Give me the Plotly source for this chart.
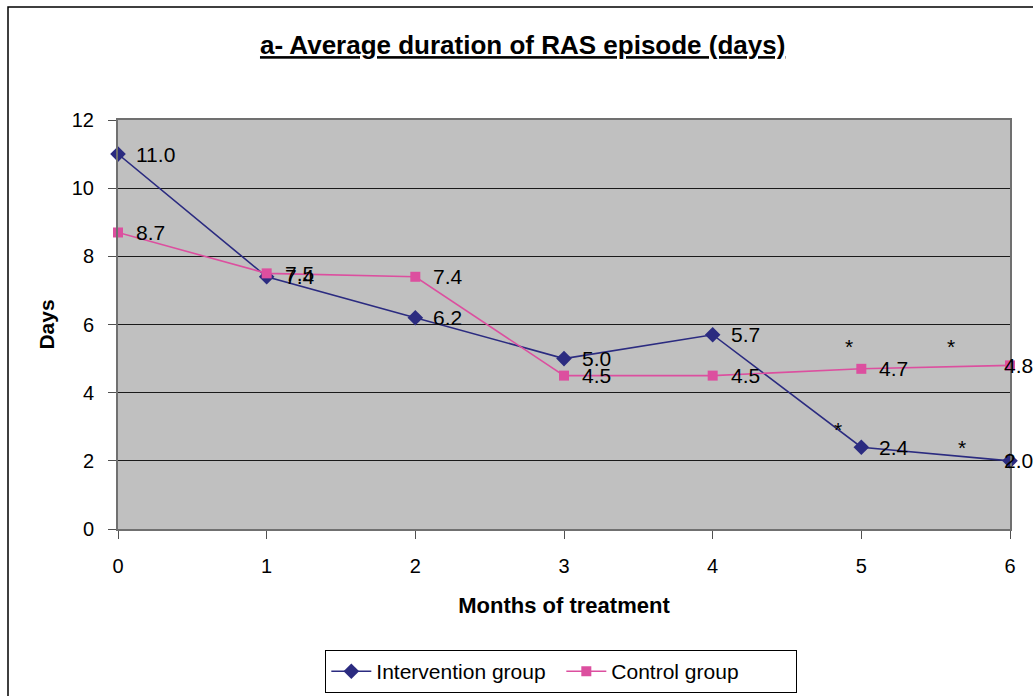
import plotly.graph_objects as go

months = [0, 1, 2, 3, 4, 5, 6]
intervention = [11.0, 7.4, 6.2, 5.0, 5.7, 2.4, 2.0]
control = [8.7, 7.5, 7.4, 4.5, 4.5, 4.7, 4.8]
y_ticks = [0, 2, 4, 6, 8, 10, 12]
# significance marks (x, y)
stars_x = [4.84, 4.92, 5.60, 5.68]
stars_y = [3.05, 5.46, 5.46, 2.52]

FONT = "Liberation Sans, Arial, sans-serif"
BLUE = "#2B2B80"
PINK = "#DC4F9F"

fig = go.Figure()
fig.add_trace(go.Scatter(
    x=months, y=intervention, mode="lines+markers", name="Intervention group",
    line=dict(color=BLUE, width=1.6),
    marker=dict(symbol="diamond", size=12, color=BLUE),
    cliponaxis=False))
fig.add_trace(go.Scatter(
    x=months, y=control, mode="lines+markers", name="Control group",
    line=dict(color=PINK, width=1.6),
    marker=dict(symbol="square", size=10, color=PINK),
    cliponaxis=False))

annotations = []
for series in (intervention, control):
    for i, (m, v) in enumerate(zip(months, series)):
        annotations.append(dict(
            x=m, y=v, xref="x", yref="y", text=f"{v:.1f}", showarrow=False,
            xanchor="left", yanchor="middle",
            xshift=(-8 if i == len(months) - 1 else 16),
            font=dict(family=FONT, size=21, color="black")))
for sx, sy in zip(stars_x, stars_y):
    annotations.append(dict(
        x=sx, y=sy, xref="x", yref="y", text="*", showarrow=False,
        xanchor="center", yanchor="middle", yshift=-4,
        font=dict(family=FONT, size=21, color="black")))

fig.update_layout(
    width=1033, height=696,
    margin=dict(l=118, r=23, t=120, b=167, autoexpand=False),
    paper_bgcolor="white", plot_bgcolor="#C0C0C0",
    font=dict(family=FONT, size=20, color="black"),
    title=dict(
        text="a- Average duration of RAS episode (days)",
        x=0.506, xanchor="center", y=1 - 45 / 696, yanchor="middle",
        font=dict(family=FONT, size=26, color="black", weight="bold",
                  lineposition="under")),
    xaxis=dict(
        range=[0, 6], tickvals=months, ticktext=[str(m) for m in months],
        showgrid=False, zeroline=False,
        showline=True, linecolor="#707070", linewidth=2, mirror=True,
        ticks="outside", ticklen=8, tickcolor="#505050",
        ticklabelstandoff=10,
        tickfont=dict(family=FONT, size=20),
        title=dict(text="<b>Months of treatment</b>", standoff=22,
                   font=dict(family=FONT, size=22))),
    yaxis=dict(
        range=[0, 12], tickvals=y_ticks,
        showgrid=True, gridcolor="#1a1a1a", gridwidth=1, zeroline=False,
        showline=True, linecolor="#707070", linewidth=2, mirror=True,
        ticks="outside", ticklen=8, tickcolor="#505050",
        ticklabelstandoff=10,
        tickfont=dict(family=FONT, size=20),
        title=dict(text="<b>Days</b>", standoff=11,
                   font=dict(family=FONT, size=21))),
    legend=dict(
        orientation="h", x=0.497, xanchor="center", y=-0.296, yanchor="top",
        bgcolor="white", bordercolor="black", borderwidth=1,
        font=dict(family=FONT, size=21), itemwidth=40, entrywidth=180),
    annotations=annotations,
    shapes=[dict(type="rect", xref="paper", yref="paper",
                 x0=(8 - 118) / 892, x1=1.2, y0=-0.6, y1=(529 - 7) / 409,
                 line=dict(color="black", width=1.5), layer="below")],
)

fig.write_html("out.html", config={"displayModeBar": False},
               post_script="document.body.style.margin='0px';")
